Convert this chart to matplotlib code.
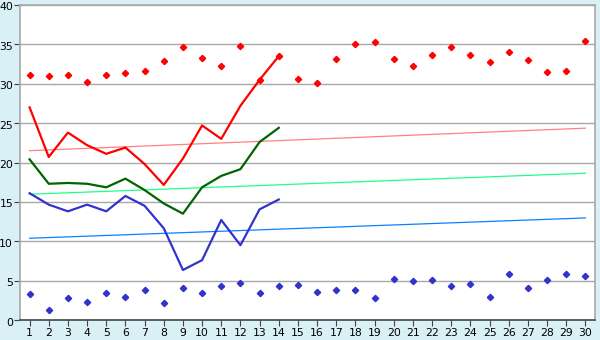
import matplotlib
matplotlib.use("Agg")
import matplotlib.pyplot as plt
from matplotlib.transforms import ScaledTranslation

days = list(range(1, 31))

max_pts = [31.1, 31.0, 31.1, 30.2, 31.1, 31.4, 31.6, 32.9, 34.7, 33.3, 32.3, 34.8, 30.5, 33.5,
           30.6, 30.05, 33.1, 35.0, 35.3, 33.2, 32.3, 33.7, 34.7, 33.7, 32.8, 34.0, 33.0, 31.45, 31.6, 35.4]
min_pts = [3.26, 1.23, 2.75, 2.25, 3.39, 2.88, 3.77, 2.12, 4.02, 3.39, 4.28, 4.66, 3.39, 4.28,
           4.4, 3.52, 3.77, 3.77, 2.75, 5.17, 4.91, 5.04, 4.28, 4.53, 2.88, 5.8, 4.02, 5.04, 5.8, 5.55]

line_days = list(range(1, 15))
red_line = [27.0, 20.7, 23.8, 22.2, 21.1, 21.9, 19.8, 17.15, 20.5, 24.7, 23.0, 27.2, 30.5, 33.5]
green_line = [20.4, 17.3, 17.4, 17.3, 16.85, 17.95, 16.5, 14.8, 13.5, 16.85, 18.3, 19.15, 22.6, 24.4]
blue_line = [16.1, 14.65, 13.8, 14.65, 13.8, 15.75, 14.5, 11.65, 6.35, 7.6, 12.7, 9.5, 14.05, 15.3]

trend_days = [1, 30]
red_trend = [21.5, 24.36]
green_trend = [15.97, 18.64]
blue_trend = [10.38, 12.96]

yticks = [0, 5, 10, 15, 20, 25, 30, 35, 40]

fig = plt.figure(figsize=(6, 3.4), dpi=100, facecolor="#D9F0F7")
ax = fig.add_axes([20/600, 20/340, 575/600, 315/340])
ax.set_facecolor("white")

for y in yticks[1:]:
    ax.axhline(y, color="#A8A8A8", lw=1.0, zorder=1)

ax.plot(trend_days, red_trend, color="#FF8080", lw=0.9, zorder=2)
ax.plot(trend_days, green_trend, color="#22FF88", lw=0.9, zorder=2)
ax.plot(trend_days, blue_trend, color="#0A80FF", lw=0.9, zorder=2)

ax.plot(line_days, red_line, color="#FF0000", lw=1.6, zorder=3)
ax.plot(line_days, green_line, color="#006400", lw=1.6, zorder=3)
ax.plot(line_days, blue_line, color="#3333CC", lw=1.6, zorder=3)

ax.plot(days, max_pts, ls="none", marker="D", ms=3.2, color="#FF0000", zorder=4)
ax.plot(days, min_pts, ls="none", marker="D", ms=3.2, color="#3333CC", zorder=4)

ax.set_xlim(0.5, 30.5)
ax.set_ylim(0, 40)
ax.set_xticks(days)
ax.set_xticklabels([str(d) for d in days])
ax.set_yticks(yticks)
ax.tick_params(axis="both", labelsize=7.8, length=4, color="#444444", pad=2)
ax.tick_params(axis="y", pad=1)
for lab in ax.get_yticklabels():
    lab.set_transform(lab.get_transform() + ScaledTranslation(0, -1.5/100, fig.dpi_scale_trans))
for s in ["top", "right", "left", "bottom"]:
    ax.spines[s].set_color("#A8A8A8")
    ax.spines[s].set_linewidth(1.2)
ax.spines["bottom"].set_color("#444444")

fig.savefig("out.png", dpi=100, facecolor=fig.get_facecolor())
